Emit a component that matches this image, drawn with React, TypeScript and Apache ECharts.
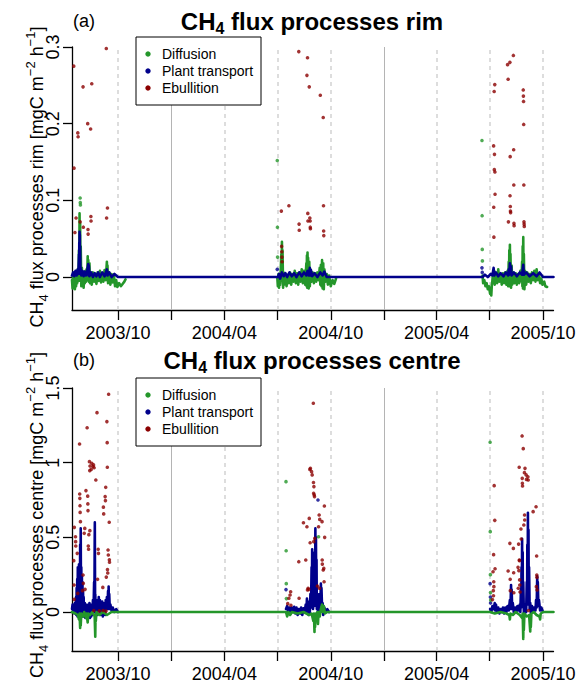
import React, { useEffect, useRef } from 'react';
import * as echarts from 'echarts';

type P = [string, number];

// ---------- axis / tick definitions ----------
const X_MIN = '2003-07-14';
const X_MAX = '2005-10-19';
const quarterTicks = ['2003-10-01', '2004-01-01', '2004-04-01', '2004-07-01', '2004-10-01', '2005-01-01', '2005-04-01', '2005-07-01', '2005-10-01'];
const labelTicks = ['2003-10-01', '2004-04-01', '2004-10-01', '2005-04-01', '2005-10-01'];
const yearLines = ['2004-01-01', '2005-01-01'];
const rimTicks = [0, 0.1, 0.2, 0.3];
const centreTicks = [0, 0.5, 1, 1.5];
const rimRange = [-0.043, 0.3];
const centreRange = [-0.261, 1.5];
const legendNames = ['Diffusion', 'Plant transport', 'Ebullition'];

// ---------- RIM: diffusion (per season) ----------
const diffRimS1: P[] = [
  ['2003-07-14', -0.004], ['2003-07-15', -0.015], ['2003-07-16', 0.003], ['2003-07-17', -0.012], ['2003-07-18', 0.006],
  ['2003-07-19', -0.016], ['2003-07-20', -0.002], ['2003-07-21', -0.012], ['2003-07-22', 0.008], ['2003-07-23', -0.008],
  ['2003-07-24', 0.01], ['2003-07-25', -0.005], ['2003-07-26', 0.035], ['2003-07-26 12', 0.005], ['2003-07-27', 0.083],
  ['2003-07-27 12', 0.02], ['2003-07-28', 0.07], ['2003-07-28 12', -0.005], ['2003-07-29', 0.04], ['2003-07-30', -0.012],
  ['2003-07-31', 0.012], ['2003-08-01', -0.01], ['2003-08-02', 0.006], ['2003-08-03', -0.014], ['2003-08-04', 0.004],
  ['2003-08-05', -0.008], ['2003-08-06', 0.008], ['2003-08-07', -0.006], ['2003-08-08', 0.01], ['2003-08-09', -0.004],
  ['2003-08-10', 0.027], ['2003-08-10 12', 0.002], ['2003-08-11', 0.022], ['2003-08-12', -0.006], ['2003-08-13', 0.018],
  ['2003-08-14', -0.008], ['2003-08-15', 0.005], ['2003-08-17', -0.01], ['2003-08-19', 0.006], ['2003-08-21', -0.006],
  ['2003-08-23', 0.004], ['2003-08-25', -0.009], ['2003-08-27', 0.006], ['2003-08-29', -0.005], ['2003-08-31', 0.008],
  ['2003-09-02', -0.007], ['2003-09-04', 0.005], ['2003-09-06', -0.006], ['2003-09-08', 0.009], ['2003-09-10', -0.004],
  ['2003-09-12', 0.02], ['2003-09-12 12', -0.003], ['2003-09-13', 0.015], ['2003-09-14', -0.008], ['2003-09-16', 0.006],
  ['2003-09-18', -0.01], ['2003-09-20', 0.004], ['2003-09-22', -0.007], ['2003-09-24', 0.003], ['2003-09-26', -0.012],
  ['2003-09-28', -0.004], ['2003-09-30', -0.013], ['2003-10-03', -0.008], ['2003-10-06', -0.012], ['2003-10-09', -0.009],
  ['2003-10-12', -0.006], ['2003-10-14', -0.003],
];
const diffRimS2: P[] = [
  ['2004-07-01', 0.0], ['2004-07-02', -0.012], ['2004-07-03', 0.004], ['2004-07-04', -0.014], ['2004-07-05', 0.002],
  ['2004-07-06', -0.01], ['2004-07-07', 0.01], ['2004-07-08', 0.03], ['2004-07-08 12', -0.005], ['2004-07-09', 0.046],
  ['2004-07-09 12', 0.0], ['2004-07-10', 0.035], ['2004-07-11', -0.014], ['2004-07-12', 0.006], ['2004-07-13', -0.01],
  ['2004-07-15', 0.004], ['2004-07-17', -0.012], ['2004-07-19', 0.003], ['2004-07-21', -0.008], ['2004-07-23', 0.006],
  ['2004-07-25', -0.01], ['2004-07-27', 0.004], ['2004-07-29', -0.006], ['2004-07-31', 0.008], ['2004-08-02', -0.008],
  ['2004-08-04', 0.005], ['2004-08-06', -0.01], ['2004-08-08', 0.006], ['2004-08-10', -0.006], ['2004-08-12', 0.01],
  ['2004-08-14', -0.008], ['2004-08-16', 0.008], ['2004-08-18', -0.01], ['2004-08-20', 0.018], ['2004-08-20 12', -0.012],
  ['2004-08-21', 0.028], ['2004-08-21 12', -0.014], ['2004-08-22', 0.032], ['2004-08-22 12', -0.01], ['2004-08-23', 0.025],
  ['2004-08-24', -0.015], ['2004-08-25', 0.02], ['2004-08-26', -0.012], ['2004-08-27', 0.01], ['2004-08-29', -0.006],
  ['2004-08-31', 0.006], ['2004-09-02', -0.008], ['2004-09-04', 0.005], ['2004-09-06', -0.006], ['2004-09-08', 0.006],
  ['2004-09-10', -0.004], ['2004-09-12', 0.012], ['2004-09-13', -0.01], ['2004-09-14', 0.016], ['2004-09-15', -0.012],
  ['2004-09-16', 0.022], ['2004-09-17', -0.015], ['2004-09-18', 0.018], ['2004-09-19', -0.016], ['2004-09-20', 0.01],
  ['2004-09-22', -0.006], ['2004-09-24', 0.004], ['2004-09-26', -0.01], ['2004-09-28', 0.002], ['2004-10-01', -0.012],
  ['2004-10-04', -0.004], ['2004-10-07', -0.009], ['2004-10-10', -0.002],
];
const diffRimS3: P[] = [
  ['2005-06-19', 0.002], ['2005-06-20', -0.008], ['2005-06-22', -0.004], ['2005-06-24', -0.012], ['2005-06-26', -0.008],
  ['2005-06-28', -0.016], ['2005-06-30', -0.012], ['2005-07-02', -0.022], ['2005-07-03', -0.014], ['2005-07-04', -0.024],
  ['2005-07-05', -0.01], ['2005-07-06', -0.004], ['2005-07-07', 0.006], ['2005-07-08', -0.008], ['2005-07-09', 0.008],
  ['2005-07-10', -0.01], ['2005-07-12', 0.004], ['2005-07-14', -0.008], ['2005-07-16', 0.01], ['2005-07-18', -0.006],
  ['2005-07-20', 0.004], ['2005-07-22', -0.01], ['2005-07-24', 0.005], ['2005-07-26', -0.008], ['2005-07-28', 0.006],
  ['2005-07-30', -0.01], ['2005-08-01', 0.008], ['2005-08-02', -0.012], ['2005-08-03', 0.02], ['2005-08-03 12', -0.01],
  ['2005-08-04', 0.035], ['2005-08-04 12', -0.012], ['2005-08-05', 0.042], ['2005-08-05 12', -0.008], ['2005-08-06', 0.03],
  ['2005-08-07', -0.014], ['2005-08-08', 0.015], ['2005-08-09', -0.01], ['2005-08-11', 0.006], ['2005-08-13', -0.008],
  ['2005-08-15', 0.005], ['2005-08-17', -0.01], ['2005-08-19', 0.004], ['2005-08-21', -0.008], ['2005-08-23', 0.008],
  ['2005-08-25', -0.006], ['2005-08-26', 0.02], ['2005-08-26 12', -0.012], ['2005-08-27', 0.04], ['2005-08-27 12', -0.015],
  ['2005-08-28', 0.052], ['2005-08-28 12', -0.01], ['2005-08-29', 0.03], ['2005-08-30', -0.016], ['2005-08-31', 0.008],
  ['2005-09-02', -0.01], ['2005-09-04', 0.006], ['2005-09-06', -0.006], ['2005-09-08', 0.004], ['2005-09-10', -0.008],
  ['2005-09-12', 0.006], ['2005-09-14', -0.004], ['2005-09-16', 0.008], ['2005-09-18', -0.006], ['2005-09-20', 0.01],
  ['2005-09-22', -0.004], ['2005-09-24', 0.004], ['2005-09-26', -0.008], ['2005-09-28', -0.002], ['2005-09-30', -0.01],
  ['2005-10-03', -0.006], ['2005-10-05', -0.012], ['2005-10-08', -0.013],
];
const diffRimOut: P[] = [
  ['2003-07-28', 0.103], ['2003-07-28 06', 0.097], ['2003-07-28 12', 0.094],
  ['2004-07-01', 0.152], ['2004-07-01 06', 0.065], ['2004-07-01 12', 0.026],
  ['2005-06-18', 0.178], ['2005-06-18 06', 0.08], ['2005-06-18 12', 0.036], ['2005-06-18 18', 0.021],
];

// ---------- RIM: plant transport (continuous, zero outside seasons) ----------
const plantRim: P[] = [
  ['2003-07-14', 0.002], ['2003-07-16', 0.006], ['2003-07-18', 0.001], ['2003-07-20', 0.008], ['2003-07-22', 0.002],
  ['2003-07-24', 0.01], ['2003-07-25', 0.004], ['2003-07-26', 0.03], ['2003-07-26 06', 0.005], ['2003-07-26 12', 0.045],
  ['2003-07-26 18', 0.008], ['2003-07-27', 0.059], ['2003-07-27 06', 0.01], ['2003-07-27 12', 0.055], ['2003-07-27 18', 0.006],
  ['2003-07-28', 0.04], ['2003-07-28 12', 0.004], ['2003-07-29', 0.012], ['2003-07-30', 0.002], ['2003-08-01', 0.008],
  ['2003-08-03', 0.001], ['2003-08-05', 0.007], ['2003-08-07', 0.002], ['2003-08-09', 0.008], ['2003-08-10', 0.012],
  ['2003-08-11', 0.017], ['2003-08-11 12', 0.002], ['2003-08-12', 0.015], ['2003-08-13', 0.001], ['2003-08-16', 0.006],
  ['2003-08-19', 0.0], ['2003-08-22', 0.005], ['2003-08-25', 0.001], ['2003-08-28', 0.006], ['2003-08-31', 0.0],
  ['2003-09-04', 0.006], ['2003-09-08', 0.001], ['2003-09-12', 0.01], ['2003-09-13', 0.002], ['2003-09-16', 0.006],
  ['2003-09-20', 0.0], ['2003-09-25', 0.004], ['2003-10-01', 0.0], ['2003-10-14', 0.0],
  ['2004-07-02', 0.0], ['2004-07-04', 0.004], ['2004-07-06', -0.002], ['2004-07-09', 0.006], ['2004-07-12', 0.001],
  ['2004-07-15', 0.005], ['2004-07-18', 0.0], ['2004-07-22', 0.006], ['2004-07-26', 0.001], ['2004-07-30', 0.005],
  ['2004-08-03', 0.0], ['2004-08-08', 0.006], ['2004-08-12', 0.001], ['2004-08-16', 0.006], ['2004-08-20', 0.002],
  ['2004-08-22', 0.008], ['2004-08-24', 0.002], ['2004-08-26', 0.012], ['2004-08-27', 0.002], ['2004-08-28', 0.009],
  ['2004-08-30', 0.001], ['2004-09-03', 0.005], ['2004-09-08', 0.0], ['2004-09-13', 0.006], ['2004-09-17', 0.002],
  ['2004-09-20', 0.007], ['2004-09-24', 0.0], ['2004-10-01', 0.0],
  ['2005-06-19', 0.0], ['2005-06-23', 0.003], ['2005-06-28', 0.0], ['2005-07-03', 0.004], ['2005-07-06', 0.002],
  ['2005-07-08', 0.012], ['2005-07-09', 0.002], ['2005-07-12', 0.006], ['2005-07-16', 0.001], ['2005-07-20', 0.005],
  ['2005-07-25', 0.001], ['2005-07-29', 0.006], ['2005-08-02', 0.002], ['2005-08-03', 0.01], ['2005-08-04', 0.003],
  ['2005-08-05', 0.018], ['2005-08-06', 0.004], ['2005-08-07', 0.014], ['2005-08-08', 0.002], ['2005-08-12', 0.006],
  ['2005-08-17', 0.001], ['2005-08-22', 0.006], ['2005-08-26', 0.003], ['2005-08-28', 0.016], ['2005-08-29', 0.003],
  ['2005-09-02', 0.006], ['2005-09-08', 0.001], ['2005-09-14', 0.005], ['2005-09-20', 0.001], ['2005-09-25', 0.006],
  ['2005-10-01', 0.0], ['2005-10-19', 0.0],
];
const plantRimOut: P[] = [['2004-07-01', 0.01], ['2005-06-18', 0.012], ['2005-06-18 12', 0.006]];

// ---------- RIM: ebullition ----------
const ebulRim: P[] = [
  ['2003-09-11', 0.298], ['2003-07-17', 0.275], ['2003-08-02', 0.248], ['2003-08-17', 0.252], ['2003-08-10', 0.2],
  ['2003-08-15', 0.193], ['2003-07-24', 0.188], ['2003-07-24 12', 0.183], ['2003-07-17 12', 0.142], ['2003-09-13', 0.09],
  ['2003-09-11 12', 0.077], ['2003-07-21', 0.077], ['2003-07-28', 0.072], ['2003-08-15 12', 0.079], ['2003-08-15 18', 0.073],
  ['2003-08-02 12', 0.065], ['2003-07-19', 0.058], ['2003-08-10 12', 0.062], ['2003-08-10 18', 0.056],
  ['2004-08-07', 0.294], ['2004-08-22', 0.286], ['2004-08-21', 0.263], ['2004-08-25', 0.248], ['2004-09-13', 0.237],
  ['2004-09-18', 0.208], ['2004-07-21', 0.093], ['2004-07-08', 0.086], ['2004-09-18 12', 0.093], ['2004-08-22 12', 0.083],
  ['2004-08-26', 0.077], ['2004-08-22 18', 0.073], ['2004-08-26 12', 0.073], ['2004-08-07 12', 0.069], ['2004-08-26 18', 0.065],
  ['2004-08-27', 0.063], ['2004-08-07 18', 0.061], ['2004-09-18 18', 0.06], ['2004-09-19', 0.054], ['2004-07-08 12', 0.04],
  ['2004-07-08 18', 0.033], ['2004-07-09', 0.026], ['2004-07-09 06', 0.02],
  ['2005-08-11', 0.289], ['2005-08-05', 0.28], ['2005-08-01', 0.277], ['2005-08-02', 0.258], ['2005-07-10', 0.251],
  ['2005-07-09', 0.242], ['2005-08-28', 0.244], ['2005-08-28 06', 0.236], ['2005-08-28 12', 0.229], ['2005-08-28 18', 0.199],
  ['2005-07-08', 0.171], ['2005-07-09 12', 0.16], ['2005-08-11 12', 0.166], ['2005-08-05 12', 0.157], ['2005-07-09 06', 0.14],
  ['2005-07-10 06', 0.137], ['2005-08-11 18', 0.12], ['2005-08-29', 0.12], ['2005-07-10 12', 0.108], ['2005-08-05 06', 0.106],
  ['2005-07-08 06', 0.091], ['2005-08-05 18', 0.092], ['2005-08-06', 0.086], ['2005-08-06 06', 0.084], ['2005-08-02 12', 0.072],
  ['2005-08-12', 0.07], ['2005-08-12 06', 0.067], ['2005-08-29 06', 0.072], ['2005-08-29 12', 0.069], ['2005-08-29 18', 0.066],
  ['2005-07-08 12', 0.052],
];

// ---------- CENTRE: plant transport (per season) ----------
const plantCentreS1: P[] = [
  ['2003-07-14', 0.02], ['2003-07-15', 0.05], ['2003-07-16', 0.0], ['2003-07-17', 0.04], ['2003-07-18', -0.01],
  ['2003-07-19', 0.06], ['2003-07-20', 0.01], ['2003-07-21', 0.1], ['2003-07-21 12', -0.02], ['2003-07-22', 0.16],
  ['2003-07-22 12', 0.0], ['2003-07-23', 0.22], ['2003-07-23 12', -0.03], ['2003-07-24', 0.3], ['2003-07-24 12', 0.02],
  ['2003-07-25', 0.26], ['2003-07-25 12', -0.02], ['2003-07-26', 0.32], ['2003-07-26 12', 0.04], ['2003-07-27', 0.28],
  ['2003-07-27 12', 0.0], ['2003-07-28', 0.45], ['2003-07-28 12', 0.02], ['2003-07-29', 0.56], ['2003-07-29 12', 0.05],
  ['2003-07-30', 0.3], ['2003-07-30 12', -0.02], ['2003-07-31', 0.24], ['2003-07-31 12', 0.01], ['2003-08-01', 0.2],
  ['2003-08-01 12', -0.03], ['2003-08-02', 0.14], ['2003-08-02 12', 0.0], ['2003-08-03', 0.1], ['2003-08-04', -0.03],
  ['2003-08-05', 0.06], ['2003-08-06', -0.04], ['2003-08-07', 0.05], ['2003-08-08', -0.03], ['2003-08-09', 0.04],
  ['2003-08-10', -0.04], ['2003-08-11', 0.05], ['2003-08-12', -0.03], ['2003-08-13', 0.06], ['2003-08-14', -0.04],
  ['2003-08-15', 0.04], ['2003-08-16', -0.03], ['2003-08-17', 0.05], ['2003-08-18', -0.02], ['2003-08-19', 0.08],
  ['2003-08-20', 0.0], ['2003-08-21', 0.2], ['2003-08-21 12', 0.02], ['2003-08-22', 0.45], ['2003-08-22 06', 0.6],
  ['2003-08-22 12', 0.3], ['2003-08-22 18', 0.05], ['2003-08-23', 0.12], ['2003-08-24', -0.03], ['2003-08-25', 0.05],
  ['2003-08-26', -0.02], ['2003-08-27', 0.08], ['2003-08-28', 0.01], ['2003-08-29', 0.1], ['2003-08-30', 0.02],
  ['2003-08-31', 0.08], ['2003-09-01', -0.02], ['2003-09-02', 0.06], ['2003-09-03', 0.0], ['2003-09-04', 0.07],
  ['2003-09-05', -0.03], ['2003-09-06', 0.05], ['2003-09-07', 0.01], ['2003-09-08', 0.06], ['2003-09-09', -0.02],
  ['2003-09-10', 0.08], ['2003-09-11', 0.02], ['2003-09-12', 0.1], ['2003-09-13', 0.02], ['2003-09-14', 0.14],
  ['2003-09-14 12', 0.03], ['2003-09-15', 0.17], ['2003-09-15 12', 0.02], ['2003-09-16', 0.12], ['2003-09-17', 0.02],
  ['2003-09-18', 0.05], ['2003-09-20', 0.01], ['2003-09-22', 0.03], ['2003-09-25', 0.0], ['2003-09-28', 0.02],
  ['2003-10-01', 0.0],
];
const plantCentreS2: P[] = [
  ['2004-07-16', 0.02], ['2004-07-18', 0.04], ['2004-07-20', 0.0], ['2004-07-22', 0.03], ['2004-07-24', -0.01],
  ['2004-07-26', 0.03], ['2004-07-28', 0.0], ['2004-07-30', 0.035], ['2004-08-01', -0.01], ['2004-08-03', 0.03],
  ['2004-08-05', -0.02], ['2004-08-07', 0.02], ['2004-08-09', -0.01], ['2004-08-11', 0.03], ['2004-08-13', -0.02],
  ['2004-08-15', 0.025], ['2004-08-17', 0.0], ['2004-08-19', 0.05], ['2004-08-20', 0.0], ['2004-08-21', 0.09],
  ['2004-08-22', 0.02], ['2004-08-23', 0.07], ['2004-08-24', -0.02], ['2004-08-25', 0.04], ['2004-08-26', 0.0],
  ['2004-08-27', 0.12], ['2004-08-28', 0.03], ['2004-08-29', 0.3], ['2004-08-29 12', 0.05], ['2004-08-30', 0.42],
  ['2004-08-30 12', 0.08], ['2004-08-31', 0.38], ['2004-08-31 12', 0.02], ['2004-09-01', 0.3], ['2004-09-01 12', 0.06],
  ['2004-09-02', 0.25], ['2004-09-03', 0.04], ['2004-09-03 12', 0.4], ['2004-09-04', 0.1], ['2004-09-04 12', 0.56],
  ['2004-09-05', 0.15], ['2004-09-05 12', 0.5], ['2004-09-06', 0.08], ['2004-09-06 12', 0.35], ['2004-09-07', 0.02],
  ['2004-09-08', 0.12], ['2004-09-09', -0.02], ['2004-09-10', 0.08], ['2004-09-11', 0.0], ['2004-09-12', 0.12],
  ['2004-09-13', 0.05], ['2004-09-14', 0.19], ['2004-09-14 12', 0.06], ['2004-09-15', 0.16], ['2004-09-16', 0.03],
  ['2004-09-17', 0.06], ['2004-09-18', -0.02], ['2004-09-20', 0.03], ['2004-09-22', 0.0], ['2004-09-25', 0.02],
  ['2004-09-28', 0.0],
];
const plantCentreS3: P[] = [
  ['2005-07-02', 0.02], ['2005-07-04', 0.0], ['2005-07-06', 0.04], ['2005-07-08', 0.02], ['2005-07-10', 0.06],
  ['2005-07-11', 0.01], ['2005-07-12', 0.05], ['2005-07-14', 0.0], ['2005-07-16', 0.03], ['2005-07-18', -0.01],
  ['2005-07-20', 0.02], ['2005-07-22', 0.0], ['2005-07-24', 0.03], ['2005-07-26', -0.01], ['2005-07-28', 0.03],
  ['2005-07-30', 0.0], ['2005-08-01', 0.04], ['2005-08-03', 0.01], ['2005-08-05', 0.08], ['2005-08-06', 0.02],
  ['2005-08-07', 0.18], ['2005-08-07 12', 0.03], ['2005-08-08', 0.15], ['2005-08-09', 0.02], ['2005-08-10', 0.06],
  ['2005-08-12', -0.01], ['2005-08-14', 0.03], ['2005-08-16', 0.0], ['2005-08-18', 0.04], ['2005-08-20', 0.01],
  ['2005-08-22', 0.05], ['2005-08-23', 0.0], ['2005-08-24', 0.15], ['2005-08-24 12', 0.03], ['2005-08-25', 0.3],
  ['2005-08-25 12', 0.05], ['2005-08-26', 0.49], ['2005-08-26 12', 0.1], ['2005-08-27', 0.4], ['2005-08-27 12', 0.04],
  ['2005-08-28', 0.2], ['2005-08-29', 0.0], ['2005-08-30', 0.05], ['2005-08-31', -0.01], ['2005-09-01', 0.04],
  ['2005-09-02', 0.0], ['2005-09-03', 0.2], ['2005-09-03 12', 0.05], ['2005-09-04', 0.45], ['2005-09-04 12', 0.1],
  ['2005-09-05', 0.665], ['2005-09-05 12', 0.15], ['2005-09-06', 0.55], ['2005-09-06 12', 0.05], ['2005-09-07', 0.3],
  ['2005-09-08', 0.02], ['2005-09-09', 0.06], ['2005-09-10', -0.01], ['2005-09-12', 0.04], ['2005-09-14', 0.0],
  ['2005-09-16', 0.03], ['2005-09-18', 0.01], ['2005-09-19', 0.08], ['2005-09-20', 0.03], ['2005-09-21', 0.24],
  ['2005-09-21 12', 0.05], ['2005-09-22', 0.2], ['2005-09-23', 0.04], ['2005-09-24', 0.08], ['2005-09-26', 0.01],
  ['2005-09-28', 0.03], ['2005-10-01', 0.0],
];
const plantCentreOut: P[] = [
  ['2004-07-16', 0.15], ['2004-09-09', 0.75], ['2005-07-02', 0.19], ['2005-07-02 12', 0.1], ['2005-07-02 18', 0.06],
];

// ---------- CENTRE: diffusion (continuous, zero outside seasons) ----------
const diffCentre: P[] = [
  ['2003-07-14', 0.0], ['2003-07-20', -0.01], ['2003-07-24', -0.02], ['2003-07-26', -0.05], ['2003-07-27', -0.01],
  ['2003-07-28', -0.107], ['2003-07-28 12', -0.02], ['2003-07-29', -0.09], ['2003-07-30', -0.01], ['2003-08-02', -0.03],
  ['2003-08-04', 0.0], ['2003-08-07', -0.04], ['2003-08-08', -0.01], ['2003-08-10', -0.07], ['2003-08-11', -0.01],
  ['2003-08-14', -0.02], ['2003-08-18', 0.0], ['2003-08-22', -0.03], ['2003-08-23', -0.165], ['2003-08-23 12', -0.02],
  ['2003-08-24', -0.06], ['2003-08-25', 0.0], ['2003-08-30', -0.02], ['2003-09-05', 0.0], ['2003-09-12', -0.02],
  ['2003-09-16', -0.01], ['2003-09-20', 0.0], ['2003-10-01', 0.0],
  ['2004-07-16', 0.0], ['2004-07-18', -0.03], ['2004-07-20', 0.0], ['2004-07-23', -0.02], ['2004-07-26', 0.0],
  ['2004-08-05', -0.01], ['2004-08-15', 0.0], ['2004-08-25', -0.02], ['2004-08-29', -0.01], ['2004-09-01', -0.06],
  ['2004-09-02', -0.01], ['2004-09-03', -0.134], ['2004-09-03 12', -0.02], ['2004-09-04', -0.1], ['2004-09-05', -0.01],
  ['2004-09-07', -0.04], ['2004-09-08', 0.0], ['2004-09-09', -0.08], ['2004-09-10', 0.0], ['2004-09-12', -0.03],
  ['2004-09-14', 0.02], ['2004-09-16', 0.05], ['2004-09-17', 0.0], ['2004-09-19', 0.04], ['2004-09-21', -0.01],
  ['2004-09-25', 0.0],
  ['2005-07-02', 0.0], ['2005-07-10', -0.01], ['2005-07-20', 0.0], ['2005-07-30', -0.01], ['2005-08-04', -0.02],
  ['2005-08-05', -0.05], ['2005-08-06', -0.01], ['2005-08-10', -0.02], ['2005-08-15', 0.0], ['2005-08-22', -0.02],
  ['2005-08-26', -0.04], ['2005-08-27', -0.01], ['2005-08-28', -0.18], ['2005-08-28 12', -0.03], ['2005-08-29', -0.12],
  ['2005-08-30', -0.01], ['2005-09-03', -0.03], ['2005-09-07', -0.02], ['2005-09-09', -0.13], ['2005-09-09 12', -0.02],
  ['2005-09-10', -0.1], ['2005-09-11', -0.01], ['2005-09-15', 0.0], ['2005-09-20', -0.02], ['2005-09-25', -0.03],
  ['2005-09-26', -0.05], ['2005-09-27', -0.01], ['2005-10-01', 0.0], ['2005-10-19', 0.0],
];
const diffCentreOut: P[] = [
  ['2004-07-16', 0.873], ['2004-07-16 06', 0.41], ['2004-07-16 12', 0.19], ['2004-07-16 18', 0.09], ['2004-09-10', 0.504],
  ['2005-07-02', 1.137], ['2005-07-02 06', 0.538], ['2005-07-02 12', 0.25], ['2005-07-02 18', 0.13], ['2005-07-03', 0.08],
];

// ---------- CENTRE: ebullition ----------
const ebulCentre: P[] = [
  ['2003-09-15', 1.458], ['2003-08-26', 1.335], ['2003-09-12', 1.275], ['2003-08-09', 1.234], ['2003-07-27', 1.125],
  ['2003-09-12 12', 1.134], ['2003-08-13', 1.007], ['2003-08-17', 0.996], ['2003-08-14', 0.978], ['2003-08-20', 0.985],
  ['2003-08-16', 0.955], ['2003-08-21', 0.966], ['2003-08-13 12', 0.947], ['2003-08-19', 0.974], ['2003-09-12 18', 0.969],
  ['2003-08-24', 0.884], ['2003-09-10', 0.835], ['2003-08-07', 0.813], ['2003-07-27 06', 0.79], ['2003-07-27 12', 0.761],
  ['2003-07-27 18', 0.712], ['2003-07-28', 0.667], ['2003-08-10', 0.776], ['2003-08-10 06', 0.724], ['2003-08-10 12', 0.679],
  ['2003-09-09', 0.773], ['2003-09-09 12', 0.746], ['2003-09-06', 0.702], ['2003-09-06 12', 0.657], ['2003-07-28 12', 0.605],
  ['2003-09-16', 0.601], ['2003-07-18', 0.567], ['2003-08-05', 0.56], ['2003-08-04', 0.527], ['2003-08-13 18', 0.545],
  ['2003-08-12', 0.518], ['2003-07-20', 0.504], ['2003-07-20 06', 0.471], ['2003-07-20 12', 0.442], ['2003-08-28', 0.42],
  ['2003-08-28 12', 0.393], ['2003-08-11', 0.442], ['2003-08-11 12', 0.42], ['2003-09-14', 0.415], ['2003-09-14 12', 0.382],
  ['2003-09-16 06', 0.35], ['2003-09-16 12', 0.333], ['2003-09-13', 0.284], ['2003-09-13 12', 0.261], ['2003-09-11', 0.234],
  ['2003-07-17', 0.344], ['2003-07-23', 0.393], ['2003-07-17 12', 0.181], ['2003-08-02', 0.248], ['2003-08-02 12', 0.192],
  ['2003-08-05 12', 0.152], ['2003-08-01', 0.143], ['2003-09-05', 0.165], ['2003-08-27', 0.219], ['2003-07-17 18', 0.085],
  ['2003-07-24', 0.125], ['2003-08-20 12', 0.01], ['2003-08-30', 0.008], ['2003-09-05 12', 0.01], ['2003-09-10 12', 0.006],
  ['2004-09-01', 1.398], ['2004-08-27', 0.962], ['2004-08-29', 0.94], ['2004-08-30', 0.918], ['2004-09-01 06', 0.867],
  ['2004-09-02', 0.84], ['2004-09-01 12', 0.795], ['2004-09-02 12', 0.784], ['2004-09-03', 0.773], ['2004-08-26', 0.955],
  ['2004-09-20', 0.71], ['2004-09-11', 0.65], ['2004-09-12', 0.62], ['2004-08-25', 0.627], ['2004-08-15', 0.598],
  ['2004-08-21', 0.571], ['2004-09-16', 0.605], ['2004-09-10', 0.571], ['2004-09-03 12', 0.493], ['2004-09-01 18', 0.471],
  ['2004-08-26 12', 0.464], ['2004-09-20 12', 0.5], ['2004-08-07', 0.337], ['2004-08-19', 0.348], ['2004-09-16 06', 0.348],
  ['2004-09-16 12', 0.321], ['2004-09-19', 0.292], ['2004-09-18', 0.281], ['2004-09-19 12', 0.203], ['2004-08-23', 0.159],
  ['2004-08-22', 0.148], ['2004-08-24', 0.152], ['2004-09-11 12', 0.159], ['2004-09-08', 0.174], ['2004-07-24', 0.136],
  ['2004-07-23', 0.114], ['2004-07-21', 0.092], ['2004-07-19', 0.056], ['2004-07-24 12', 0.045], ['2004-08-07 12', 0.092],
  ['2005-08-26', 1.179], ['2005-08-28', 1.094], ['2005-08-21', 0.969], ['2005-08-31', 0.962], ['2005-08-30', 0.933],
  ['2005-09-02', 0.918], ['2005-09-05', 0.906], ['2005-09-02 12', 0.888], ['2005-09-05 12', 0.884], ['2005-08-26 06', 0.895],
  ['2005-08-26 12', 0.862], ['2005-08-26 18', 0.844], ['2005-07-09', 0.846], ['2005-09-19', 0.705], ['2005-09-14', 0.672],
  ['2005-08-30 06', 0.65], ['2005-08-30 12', 0.616], ['2005-08-29', 0.583], ['2005-07-10', 0.614], ['2005-08-24', 0.556],
  ['2005-08-24 12', 0.489], ['2005-08-05', 0.46], ['2005-08-11', 0.426], ['2005-08-20', 0.455], ['2005-07-08', 0.384],
  ['2005-09-20', 0.375], ['2005-08-21 06', 0.348], ['2005-08-21 12', 0.344], ['2005-08-19', 0.299], ['2005-08-20 12', 0.277],
  ['2005-07-10 12', 0.29], ['2005-08-02', 0.275], ['2005-08-11 12', 0.263], ['2005-09-20 06', 0.248], ['2005-09-20 12', 0.232],
  ['2005-07-07', 0.27], ['2005-08-05 12', 0.219], ['2005-08-21 18', 0.215], ['2005-08-22', 0.181], ['2005-07-08 06', 0.203],
  ['2005-07-08 12', 0.17], ['2005-07-07 12', 0.143], ['2005-09-19 12', 0.17], ['2005-09-20 18', 0.148], ['2005-08-05 18', 0.143],
  ['2005-08-11 18', 0.129], ['2005-08-19 12', 0.159], ['2005-08-22 12', 0.134], ['2005-07-07 18', 0.109], ['2005-07-06', 0.083],
  ['2005-09-06', 0.01],
];

// ---------- helpers ----------
const t = (s: string) => {
  const [d, h] = s.split(' ');
  const [Y, M, D] = d.split('-').map(Number);
  return Date.UTC(Y, M - 1, D, h ? Number(h) : 0);
};
const pts = (a: P[]) => a.map(([d, v]) => [t(d), v]);

const FONT = '"Liberation Sans", Arial, Helvetica, sans-serif';
const GREEN = '#24962A';
const BLUE = '#00008B';
const RED = '#8B0000';
const colors = [GREEN, BLUE, RED];

const fmtDate = (v: number) => {
  const d = new Date(v);
  return d.getUTCFullYear() + '/' + String(d.getUTCMonth() + 1).padStart(2, '0');
};

const xAxisCfg = (gridIndex: number) => ({
  type: 'value',
  gridIndex,
  min: t(X_MIN),
  max: t(X_MAX),
  scale: true,
  axisLine: { show: true, onZero: false, lineStyle: { color: '#000', width: 1.3 } },
  axisTick: { show: true, customValues: quarterTicks.map(t), length: 10, lineStyle: { color: '#000', width: 1.3 } },
  axisLabel: {
    show: true, customValues: labelTicks.map(t), formatter: fmtDate, fontSize: 18, color: '#000',
    fontFamily: FONT, margin: 14, hideOverlap: false,
  },
  splitLine: { show: false },
  minorTick: { show: false },
});

const yAxisCfg = (gridIndex: number, range: number[], ticks: number[]) => ({
  type: 'value',
  gridIndex,
  min: range[0],
  max: range[1],
  axisLine: { show: true, onZero: false, lineStyle: { color: '#000', width: 1.3 } },
  axisTick: { show: true, customValues: ticks, length: 9, lineStyle: { color: '#000', width: 1.3 } },
  axisLabel: {
    show: true, customValues: ticks, rotate: 90, fontSize: 18, color: '#000', fontFamily: FONT, margin: 10,
    formatter: (v: number) => String(v),
  },
  splitLine: { show: false },
});

const vLines = quarterTicks.map((d) => ({
  xAxis: t(d),
  lineStyle: yearLines.includes(d)
    ? { type: 'solid', color: '#b4b4b4', width: 1 }
    : { type: [4, 4], color: '#d2d2d2', width: 1.5 },
}));

const lineS = (name: string, data: P[], color: string, i: number) => ({
  type: 'line', name, xAxisIndex: i, yAxisIndex: i, data: pts(data), showSymbol: false, symbol: 'none',
  lineStyle: { color, width: 2.6, cap: 'round', join: 'round' }, itemStyle: { color }, silent: true, z: 2,
});
const dotS = (name: string, data: P[], color: string, i: number, withLines = false) => ({
  type: 'scatter', name, xAxisIndex: i, yAxisIndex: i, data: pts(data), symbol: 'circle', symbolSize: 3.6,
  itemStyle: { color }, silent: true, z: 3,
  ...(withLines
    ? { markLine: { silent: true, z: 1, symbol: ['none', 'none'], label: { show: false }, data: vLines, animation: false } }
    : {}),
});

const legendGroup = (top: number) => ({
  type: 'group',
  z: 100,
  children: [
    { type: 'rect', z: 100, shape: { x: 136, y: top, width: 125, height: 68 }, style: { fill: '#fff', stroke: '#000', lineWidth: 1 } },
    ...legendNames.flatMap((n, k) => [
      { type: 'circle', z: 101, shape: { cx: 148, cy: top + 17 + 17 * k, r: 2.7 }, style: { fill: colors[k] } },
      {
        type: 'text', z: 101, x: 162, y: top + 17 + 17 * k,
        style: { text: n, fontSize: 14, fontFamily: FONT, fill: '#000', align: 'left', verticalAlign: 'middle', textAlign: 'left', textVerticalAlign: 'middle' },
      },
    ]),
  ],
});

const titleRich = {
  b: { fontSize: 24, fontWeight: 'bold', fontFamily: FONT, fill: '#000', color: '#000', lineHeight: 30 },
  s: { fontSize: 16, fontWeight: 'bold', fontFamily: FONT, fill: '#000', color: '#000', lineHeight: 17, verticalAlign: 'bottom' },
};
const yRich = {
  n: { fontSize: 18, fontFamily: FONT, fill: '#000', color: '#000', lineHeight: 26 },
  s: { fontSize: 13, fontFamily: FONT, fill: '#000', color: '#000', lineHeight: 12, verticalAlign: 'bottom' },
  p: { fontSize: 13, fontFamily: FONT, fill: '#000', color: '#000', lineHeight: 12, verticalAlign: 'top' },
};

const panelTexts = (yTitle: number, panelTag: string, mainTitle: string, yLabel: string, yMid: number) => [
  {
    type: 'text', x: 73, y: yTitle,
    style: { text: panelTag, fontSize: 18, fontFamily: FONT, fill: '#000', align: 'left', verticalAlign: 'middle', textAlign: 'left', textVerticalAlign: 'middle' },
  },
  {
    type: 'text', x: 312, y: yTitle,
    style: { text: mainTitle, rich: titleRich, align: 'center', verticalAlign: 'middle', textAlign: 'center', textVerticalAlign: 'middle' },
  },
  {
    type: 'text', x: 37, y: yMid, rotation: Math.PI / 2,
    style: { text: yLabel, rich: yRich, align: 'center', verticalAlign: 'middle', textAlign: 'center', textVerticalAlign: 'middle' },
  },
];

const option = {
  animation: false,
  backgroundColor: '#fff',
  grid: [
    { left: 72, right: 31.5, top: 47, height: 263, outerBoundsMode: 'none', containLabel: false },
    { left: 72, right: 31.5, top: 388, height: 263, outerBoundsMode: 'none', containLabel: false },
  ],
  xAxis: [xAxisCfg(0), xAxisCfg(1)],
  yAxis: [yAxisCfg(0, rimRange, rimTicks), yAxisCfg(1, centreRange, centreTicks)],
  series: [
    // rim
    lineS('Diffusion', diffRimS1, GREEN, 0),
    lineS('Diffusion', diffRimS2, GREEN, 0),
    lineS('Diffusion', diffRimS3, GREEN, 0),
    dotS('Diffusion', diffRimOut, GREEN, 0),
    lineS('Plant transport', plantRim, BLUE, 0),
    dotS('Plant transport', plantRimOut, BLUE, 0),
    dotS('Ebullition', ebulRim, RED, 0, true),
    // centre
    lineS('Plant transport', plantCentreS1, BLUE, 1),
    lineS('Plant transport', plantCentreS2, BLUE, 1),
    lineS('Plant transport', plantCentreS3, BLUE, 1),
    dotS('Plant transport', plantCentreOut, BLUE, 1),
    lineS('Diffusion', diffCentre, GREEN, 1),
    dotS('Diffusion', diffCentreOut, GREEN, 1),
    dotS('Ebullition', ebulCentre, RED, 1, true),
  ],
  graphic: [
    ...panelTexts(21, '(a)', '{b|CH}{s|4}{b| flux processes rim}', '{n|CH}{s|4}{n| flux processes rim [mgC m}{p|\u22122}{n| h}{p|\u22121}{n|]}', 177),
    ...panelTexts(360, '(b)', '{b|CH}{s|4}{b| flux processes centre}', '{n|CH}{s|4}{n| flux processes centre [mgC m}{p|\u22122}{n| h}{p|\u22121}{n|]}', 515),
    legendGroup(37),
    legendGroup(378),
  ],
};

export default function App() {
  const ref = useRef<HTMLDivElement>(null);
  useEffect(() => {
    const chart = echarts.init(ref.current as HTMLDivElement, null, { renderer: 'svg', width: 585, height: 686 });
    chart.setOption(option as any);
    return () => chart.dispose();
  }, []);
  return (
    <div
      ref={ref}
      style={{ position: 'fixed', left: 0, top: 0, width: 585, height: 686, background: '#fff' }}
    />
  );
}
